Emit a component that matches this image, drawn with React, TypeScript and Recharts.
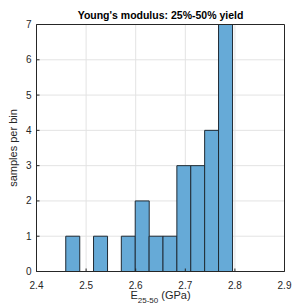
import React from "react";
import {
  BarChart,
  Bar,
  XAxis,
  YAxis,
  CartesianGrid,
  Label,
} from "recharts";

// Histogram bin edges (GPa) and counts per bin
const binEdges = [2.459, 2.487, 2.515, 2.543, 2.571, 2.599, 2.627, 2.655, 2.683, 2.711, 2.739, 2.767, 2.795];
const binCounts = [1, 0, 1, 0, 1, 2, 1, 1, 3, 3, 4, 7];
const xTicks = [2.4, 2.5, 2.6, 2.7, 2.8, 2.9];
const yTicks = [0, 1, 2, 3, 4, 5, 6, 7];

const data = binCounts.map((count, i) => ({
  center: (binEdges[i] + binEdges[i + 1]) / 2,
  count,
}));

const FONT = "'Liberation Sans', Arial, Helvetica, sans-serif";
const AXIS_COLOR = "#262626";

const TitleLabel = (props: any) => {
  const vb = props.viewBox || {};
  const cx = vb.x + vb.width / 2;
  return (
    <text
      x={cx}
      y={vb.y - 5}
      textAnchor="middle"
      fontFamily={FONT}
      fontSize={10.5}
      fontWeight="bold"
      fill="#000"
    >
      Young's modulus: 25%-50% yield
    </text>
  );
};

const XLabel = (props: any) => {
  const vb = props.viewBox || {};
  const cx = vb.x + vb.width / 2;
  return (
    <text
      x={cx}
      y={vb.y + 27}
      textAnchor="middle"
      fontFamily={FONT}
      fontSize={11}
      fill={AXIS_COLOR}
    >
      <tspan>E</tspan>
      <tspan fontSize={8} dy={4}>25-50</tspan>
      <tspan dy={-4}> (GPa)</tspan>
    </text>
  );
};

const YLabel = (props: any) => {
  const vb = props.viewBox || {};
  const cy = vb.y + vb.height / 2;
  const x = 13;
  return (
    <text
      x={x}
      y={cy}
      transform={`rotate(-90, ${x}, ${cy})`}
      textAnchor="middle"
      dominantBaseline="central"
      fontFamily={FONT}
      fontSize={11}
      fill={AXIS_COLOR}
    >
      samples per bin
    </text>
  );
};

export default function App() {
  const tickStyle = { fontFamily: FONT, fontSize: 10, fill: AXIS_COLOR };
  return (
    <div style={{ position: "absolute", left: 0, top: 0, background: "#fff" }}>
      <BarChart
        width={306}
        height={307}
        data={data}
        margin={{ top: 23.5, right: 20.5, bottom: 0, left: 0 }}
        barCategoryGap={0}
        barGap={0}
      >
        <CartesianGrid
          xAxisId="bottom"
          yAxisId="left"
          stroke="#e3e3e3"
          strokeWidth={1}
        />
        <XAxis
          xAxisId="bottom"
          dataKey="center"
          type="number"
          domain={[2.4, 2.9]}
          ticks={xTicks}
          allowDataOverflow
          height={35.5}
          tickSize={-3}
          tickMargin={13}
          tick={tickStyle}
          stroke={AXIS_COLOR}
          interval={0}
          tickFormatter={(v: number) => v.toFixed(1)}
        >
          <Label content={<XLabel />} />
        </XAxis>
        <XAxis
          xAxisId="top"
          orientation="top"
          type="number"
          domain={[2.4, 2.9]}
          ticks={xTicks}
          allowDataOverflow
          height={1}
          tickSize={-3}
          tick={false}
          stroke={AXIS_COLOR}
          interval={0}
        >
          <Label content={<TitleLabel />} />
        </XAxis>
        <YAxis
          yAxisId="left"
          type="number"
          domain={[0, 7]}
          ticks={yTicks}
          width={36.5}
          tickSize={-3}
          tickMargin={8}
          tick={tickStyle}
          stroke={AXIS_COLOR}
          interval={0}
        >
          <Label content={<YLabel />} />
        </YAxis>
        <YAxis
          yAxisId="right"
          orientation="right"
          type="number"
          domain={[0, 7]}
          ticks={yTicks}
          width={1}
          tickSize={-3}
          tick={false}
          stroke={AXIS_COLOR}
          interval={0}
        />
        <Bar
          xAxisId="bottom"
          yAxisId="left"
          dataKey="count"
          fill="#66aad7"
          stroke="#1f2a33"
          strokeWidth={1}
          isAnimationActive={false}
        />
      </BarChart>
    </div>
  );
}
